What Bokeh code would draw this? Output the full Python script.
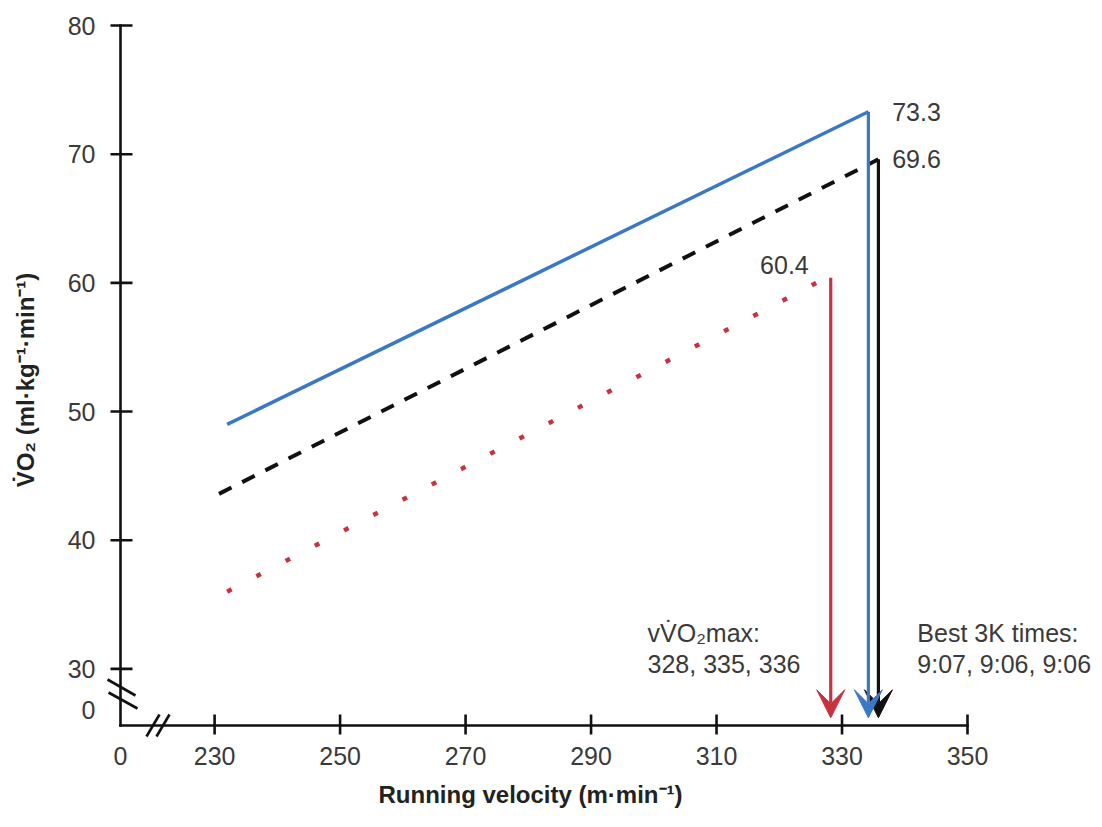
from bokeh.plotting import figure
from bokeh.models import FixedTicker, Label, Arrow, VeeHead, Range1d, Title
from bokeh.embed import file_html
from bokeh.resources import INLINE

# ---------------- data ----------------
x_ticks = [230, 250, 270, 290, 310, 330, 350]
y_ticks = [30, 40, 50, 60, 70, 80]

series = ["blue", "black", "red"]
v_start = [232.0, 230.7, 232.0]        # running velocity at start of each line
vo2_start = [49.0, 43.6, 36.0]         # VO2 at start
v_peak = [334.2, 335.8, 327.5]         # velocity at end of line
vo2_peak = [73.3, 69.6, 60.4]          # VO2max values
v_arrow = [334.2, 335.8, 328.2]        # vVO2max arrows
peak_labels = ["73.3", "69.6", "60.4"]
vvo2max_text = ["vV\u0307O\u2082max:", "328, 335, 336"]
best3k_text = ["Best 3K times:", "9:07, 9:06, 9:06"]

# ---------------- layout / style ----------------
FONT = "Liberation Sans"
TXT = "#3a3a3a"
AXC = "#111111"
colors = {"blue": "#3a77c5", "black": "#111111", "red": "#c8323f"}
dashes = {"blue": "solid", "black": "14 12", "red": "5 28"}
widths = {"blue": 3.5, "black": 4, "red": 4.5}

X0, Y0 = 215.0, 25.6          # broken-axis corner (shown as "0")
Y_ZERO_LBL = 26.8             # where the y "0" label sits
W, H = 1100, 827
AX_PX, AY_PX = 120, 725       # pixel position of y axis / x axis lines
KX = (967 - AX_PX) / (350 - X0)
KY = (AY_PX - 25) / (80 - Y0)
FR_L, FR_R, FR_T, FR_B = 106, 1100, 21, 738
x_lo = X0 - (AX_PX - FR_L) / KX
x_hi = X0 + (FR_R - AX_PX) / KX
y_hi = 80 + (25 - FR_T) / KY
y_lo = Y0 - (FR_B - AY_PX) / KY

p = figure(width=W, height=H,
           x_range=Range1d(x_lo, x_hi), y_range=Range1d(y_lo, y_hi),
           output_backend="svg", toolbar_location=None,
           min_border_left=FR_L, min_border_right=W - FR_R,
           min_border_top=FR_T, min_border_bottom=H - FR_B)
p.title.visible = False
p.outline_line_color = None
p.grid.visible = False

# axes provide the labels only; lines and ticks are drawn at the broken-axis corner
for ax in (p.xaxis[0], p.yaxis[0]):
    ax.axis_line_color = None
    ax.major_tick_line_color = None
    ax.minor_tick_line_color = None
    ax.major_tick_in = 0
    ax.major_tick_out = 0
    ax.major_label_text_font = FONT
    ax.major_label_text_font_size = "25px"
    ax.major_label_text_color = TXT

xa = p.xaxis[0]
xa.ticker = FixedTicker(ticks=[X0] + x_ticks)
xa.major_label_overrides = {X0: "0"}
xa.major_label_standoff = 8

ya = p.yaxis[0]
ya.ticker = FixedTicker(ticks=[Y_ZERO_LBL] + y_ticks)
ya.major_label_overrides = {Y_ZERO_LBL: "0"}
ya.major_label_standoff = 11
ya.axis_label = "V\u0307O\u2082 (ml\u00b7kg\u207b\u00b9\u00b7min\u207b\u00b9)"
ya.axis_label_text_font = FONT
ya.axis_label_text_font_style = "bold"
ya.axis_label_text_font_size = "24px"
ya.axis_label_text_color = "#222222"
ya.axis_label_standoff = 26

# x-axis title (placed below, under the axis line)
p.add_layout(Title(text="Running velocity (m\u00b7min\u207b\u00b9)", align="left",
                   offset=378 - FR_L, text_font=FONT, text_font_size="24px",
                   text_font_style="bold", text_color="#222222", standoff=26,
                   vertical_align="top"), "below")

# axis lines
p.segment(x0=[X0, X0], y0=[Y0, Y0], x1=[350, X0], y1=[Y0, 80],
          line_color=AXC, line_width=2.6, line_cap="square")

# tick marks (crossing the axis lines)
p.segment(x0=x_ticks, x1=x_ticks,
          y0=[Y0 - 9 / KY] * len(x_ticks), y1=[Y0 + 11 / KY] * len(x_ticks),
          line_color=AXC, line_width=2.6)
p.segment(x0=[X0 - 10 / KX] * len(y_ticks), x1=[X0 + 12 / KX] * len(y_ticks),
          y0=y_ticks, y1=y_ticks, line_color=AXC, line_width=2.6)

# axis break marks (pixel offsets from the corner)
brk_y = [((-13, -46), (15, -30)), ((-12, -33), (17, -17))]
brk_x = [((26, 11), (39, -11)), ((36, 11), (49, -11))]
bx0, by0, bx1, by1 = [], [], [], []
for (a, b), (c, d) in brk_y + brk_x:
    bx0.append(X0 + a / KX); by0.append(Y0 - b / KY)
    bx1.append(X0 + c / KX); by1.append(Y0 - d / KY)
p.segment(x0=bx0, y0=by0, x1=bx1, y1=by1, line_color=AXC, line_width=2.6)

# lines (draw red, black, then blue)
order = [2, 1, 0]
for i in order:
    s = series[i]
    p.line([v_start[i], v_peak[i]], [vo2_start[i], vo2_peak[i]],
           line_color=colors[s], line_width=widths[s], line_dash=dashes[s])

# arrows down to the velocity axis
for i in order:
    s = series[i]
    p.add_layout(Arrow(x_start=v_arrow[i], y_start=vo2_peak[i], x_end=v_arrow[i], y_end=26.2,
                       line_color=colors[s], line_width=3.2,
                       end=VeeHead(size=28, fill_color=colors[s], line_color=colors[s], line_width=1)))

# value labels
lbl = dict(text_font=FONT, text_font_size="25px", text_color=TXT, text_baseline="middle")
p.add_layout(Label(x=338.0, y=vo2_peak[0], text=peak_labels[0], **lbl))
p.add_layout(Label(x=338.0, y=vo2_peak[1], text=peak_labels[1], **lbl))
p.add_layout(Label(x=324.7, y=vo2_peak[2] + 0.95, text=peak_labels[2], text_align="right", **lbl))

for j, t in enumerate(vvo2max_text):
    p.add_layout(Label(x=299.0, y=[32.8, 30.4][j], text=t, **lbl))
for j, t in enumerate(best3k_text):
    p.add_layout(Label(x=342.0, y=[32.8, 30.4][j], text=t, **lbl))

open("out.html", "w").write(file_html(p, INLINE))
